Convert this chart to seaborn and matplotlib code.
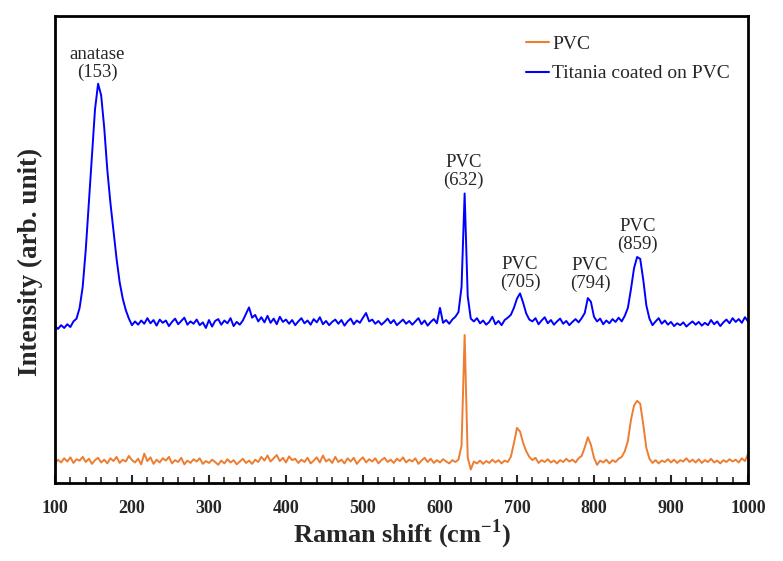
import numpy as np
import pandas as pd
import matplotlib
matplotlib.use("Agg")
import matplotlib.pyplot as plt
from matplotlib.ticker import MultipleLocator
import seaborn as sns

# Raman shift grid (cm-1), 4 cm-1 step from 100 to 1000
raman_shift = np.arange(100, 1001, 4)

titania_on_pvc = [
    33.6, 33.0, 33.8, 33.2, 34.0, 33.4, 34.6, 35.2, 37.5, 42.0,
    50.0, 60.0, 70.0, 80.0, 85.5, 83.0, 76.0, 67.0, 60.0, 54.0,
    48.0, 43.0, 39.5, 37.0, 35.2, 33.8, 34.6, 33.9, 34.8, 34.1,
    35.3, 34.2, 34.9, 33.7, 35.0, 34.3, 34.8, 33.6, 34.5, 35.2,
    34.0, 34.7, 35.4, 33.9, 34.6, 34.1, 35.0, 33.8, 34.4, 33.2,
    34.9, 33.5, 34.7, 35.1, 33.9, 34.8, 34.2, 35.3, 33.6, 34.5,
    33.9, 34.8, 36.2, 37.6, 35.4, 36.0, 34.6, 35.5, 34.4, 35.8,
    34.3, 35.2, 34.0, 35.6, 34.5, 35.0, 34.1, 34.9, 33.8, 34.6,
    35.3, 34.2, 34.8, 33.9, 35.1, 34.4, 35.5, 34.0, 34.7, 33.8,
    34.5, 35.0, 34.1, 34.9, 33.7, 34.6, 35.2, 34.0, 34.8, 34.3,
    35.4, 36.4, 34.6, 35.0, 34.1, 34.7, 33.9, 34.5, 35.2, 34.2,
    34.9, 33.8, 34.4, 35.0, 34.1, 34.7, 33.9, 34.6, 35.3, 34.0,
    34.8, 33.7, 34.5, 35.1, 34.2, 37.5, 34.3, 34.9, 34.1, 35.0,
    35.6, 36.6, 42.0, 62.0, 40.0, 35.2, 34.6, 35.3, 34.2, 34.8,
    33.9, 34.5, 35.6, 34.0, 34.7, 33.8, 34.9, 35.4, 36.0, 37.5,
    39.5, 40.6, 38.6, 36.3, 35.0, 34.6, 35.3, 34.0, 34.8, 35.5,
    34.2, 34.9, 33.9, 34.6, 35.2, 34.1, 34.7, 33.8, 34.5, 35.1,
    34.4, 35.3, 36.4, 39.6, 38.8, 35.6, 34.6, 35.2, 34.0, 34.8,
    34.2, 35.1, 34.5, 35.4, 34.6, 35.8, 37.5, 41.5, 46.0, 48.4,
    48.0, 43.5, 38.0, 35.2, 33.8, 34.6, 35.3, 34.1, 34.8, 33.9,
    34.5, 33.6, 34.2, 33.8, 34.4, 33.5, 34.1, 34.6, 33.9, 34.5,
    33.7, 34.3, 33.8, 34.9, 34.0, 34.6, 33.6, 34.4, 35.0, 34.2,
    35.3, 34.5, 35.1, 34.3, 35.5, 34.6,
]

pvc = [
    4.2, 5.0, 4.4, 5.3, 4.6, 5.5, 4.3, 5.1, 4.8, 5.6,
    4.5, 5.2, 4.1, 4.9, 5.4, 4.4, 5.0, 4.2, 5.3, 4.7,
    5.6, 4.3, 5.0, 4.6, 5.8, 4.9, 4.4, 5.2, 4.0, 6.3,
    4.7, 5.5, 4.1, 5.0, 4.4, 5.3, 4.8, 5.6, 4.2, 4.9,
    4.5, 5.4, 4.0, 4.8, 4.3, 5.1, 4.6, 5.3, 4.1, 4.7,
    4.3, 5.0, 4.5, 3.9, 4.8, 4.2, 5.1, 4.4, 4.9, 4.0,
    4.6, 5.2, 4.3, 4.8, 4.1, 5.0, 4.5, 5.6, 4.8, 5.9,
    4.6, 5.3, 6.0, 4.7, 5.4, 4.4, 5.7, 4.9, 5.2, 4.3,
    5.0, 4.5, 5.4, 4.2, 4.8, 5.5, 4.4, 5.9, 4.6, 5.1,
    4.3, 5.6, 4.5, 5.0, 4.2, 5.3, 4.6, 5.4, 4.1, 4.9,
    5.5, 4.4, 5.1, 4.6, 5.3, 4.2, 4.9, 5.4, 4.5, 5.0,
    4.3, 5.2, 4.7, 5.5, 4.4, 5.0, 4.6, 5.3, 4.1, 4.8,
    5.4, 4.5, 5.2, 4.3, 4.9, 4.4, 5.1, 4.6, 4.2, 4.9,
    4.5, 5.0, 8.0, 31.7, 5.5, 2.9, 4.6, 4.2, 4.8, 4.1,
    4.7, 4.3, 5.0, 4.4, 4.9, 4.2, 4.8, 4.5, 5.6, 8.5,
    11.8, 11.0, 8.6, 6.8, 5.6, 4.9, 5.4, 4.3, 4.9, 4.5,
    5.1, 4.4, 4.8, 4.2, 4.9, 4.5, 5.2, 4.6, 5.0, 4.4,
    5.3, 5.8, 7.6, 9.8, 8.2, 5.4, 3.9, 4.8, 4.4, 5.0,
    4.2, 4.9, 4.5, 5.2, 5.6, 6.8, 9.0, 13.5, 16.6, 17.6,
    17.0, 12.5, 7.5, 5.2, 4.3, 4.9, 4.2, 4.8, 4.5, 5.1,
    4.4, 5.0, 4.3, 4.9, 4.6, 5.3, 4.5, 5.0, 4.4, 5.1,
    4.3, 4.9, 4.5, 5.2, 4.4, 4.8, 4.2, 4.9, 4.5, 5.1,
    4.6, 5.0, 4.4, 5.3, 4.7, 6.2,
]

series_names = ["PVC", "Titania coated on PVC"]
series_colors = ["#ED7D31", "#0000FF"]

peak_labels = ["anatase\n(153)", "PVC\n(632)", "PVC\n(705)", "PVC\n(794)", "PVC\n(859)"]
peak_label_x = [155, 631, 704, 795, 857]
peak_label_y = [89.8, 66.6, 44.8, 44.6, 53.0]

df = pd.DataFrame({
    "shift": np.concatenate([raman_shift, raman_shift]),
    "intensity": np.concatenate([pvc, titania_on_pvc]),
    "sample": [series_names[0]] * len(raman_shift) + [series_names[1]] * len(raman_shift),
})

sns.set_style("ticks")
plt.rcParams["font.family"] = ["Liberation Serif", "DejaVu Serif"]
plt.rcParams["mathtext.fontset"] = "custom"
plt.rcParams["mathtext.rm"] = "Liberation Serif"
plt.rcParams["mathtext.bf"] = "Liberation Serif:bold"

fig = plt.figure(figsize=(7.83, 5.61), dpi=100)
ax = fig.add_axes([0.0702, 0.139, 0.8851, 0.8325])

sns.lineplot(data=df, x="shift", y="intensity", hue="sample",
             hue_order=series_names, palette=series_colors,
             linewidth=1.4, ax=ax, sort=False, estimator=None)

ax.set_xlim(100, 1000)
ax.set_ylim(0, 100)
ax.set_yticks([])
ax.xaxis.set_major_locator(MultipleLocator(100))
ax.xaxis.set_minor_locator(MultipleLocator(20))
ax.tick_params(axis="x", which="major", direction="in", length=6, width=1.5,
               labelsize=13, pad=12.5, top=False)
ax.tick_params(axis="x", which="minor", direction="in", length=4, width=1.2, top=False)
for lab in ax.get_xticklabels():
    lab.set_fontweight("bold")
for sp in ax.spines.values():
    sp.set_visible(True)
    sp.set_linewidth(2)
    sp.set_color("black")

ax.set_xlabel("Raman shift (cm$^{\\mathbf{-1}}$)", fontsize=19, fontweight="bold", labelpad=0)
ax.set_ylabel("Intensity (arb. unit)", fontsize=19.5, fontweight="bold")
ax.yaxis.set_label_coords(-0.017, 0.473)

for txt, xx, yy in zip(peak_labels, peak_label_x, peak_label_y):
    ax.text(xx, yy, txt, ha="center", va="center", fontsize=13.5, linespacing=1.05)

leg = ax.legend(loc="upper left", bbox_to_anchor=(0.668, 0.975), frameon=False,
                fontsize=14, handlelength=1.2, handletextpad=0.15,
                borderaxespad=0, labelspacing=0.6)
for line in leg.get_lines():
    line.set_linewidth(1.5)

fig.savefig("out.png", dpi=100)
